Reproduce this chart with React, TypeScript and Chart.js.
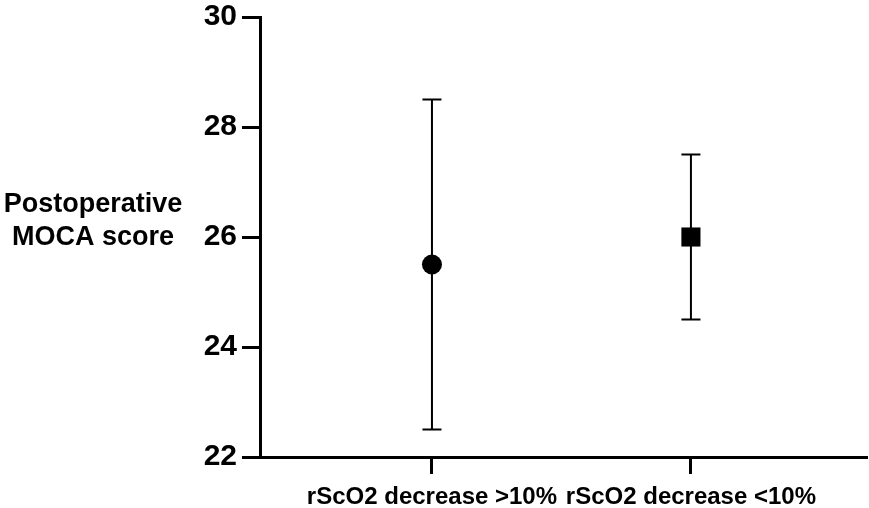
import React, { useEffect, useRef } from "react";
import { Chart, registerables } from "chart.js";

Chart.register(...registerables);

const categories = ["rScO2 decrease >10%", "rScO2 decrease <10%"];
const means = [25.5, 26];
const lowerBounds = [22.5, 24.5];
const upperBounds = [28.5, 27.5];
const yTicks = [22, 24, 26, 28, 30];
const yTitleLines = ["Postoperative", "MOCA score"];
const pointShapes = ["circle", "rect"];

const FONT = "'Liberation Sans', Arial, Helvetica, sans-serif";

const errorBarPlugin = {
  id: "errorBars",
  beforeDatasetsDraw(chart: any) {
    const ctx = chart.ctx;
    const xs = chart.scales.x;
    const ys = chart.scales.y;
    ctx.save();
    ctx.strokeStyle = "#000";
    ctx.lineWidth = 2;
    categories.forEach((_, i) => {
      const x = xs.getPixelForValue(i + 1);
      const yl = ys.getPixelForValue(lowerBounds[i]);
      const yh = ys.getPixelForValue(upperBounds[i]);
      const cap = 9.5;
      ctx.beginPath();
      ctx.moveTo(x, yl);
      ctx.lineTo(x, yh);
      ctx.moveTo(x - cap, yl);
      ctx.lineTo(x + cap, yl);
      ctx.moveTo(x - cap, yh);
      ctx.lineTo(x + cap, yh);
      ctx.stroke();
    });
    ctx.restore();
  },
};

const yTitlePlugin = {
  id: "yTitle",
  afterDraw(chart: any) {
    const ctx = chart.ctx;
    const ys = chart.scales.y;
    const cy = ys.getPixelForValue(26.3);
    ctx.save();
    ctx.fillStyle = "#000";
    ctx.font = `bold 27px ${FONT}`;
    ctx.textAlign = "center";
    ctx.textBaseline = "alphabetic";
    ctx.fillText(yTitleLines[0], 93, cy - 9);
    ctx.fillText(yTitleLines[1], 93, cy + 24);
    ctx.restore();
  },
};

export default function App() {
  const ref = useRef<HTMLCanvasElement | null>(null);
  useEffect(() => {
    if (!ref.current) return;
    const chart = new Chart(ref.current, {
      type: "scatter",
      data: {
        datasets: categories.map((c, i) => ({
          label: c,
          data: [{ x: i + 1, y: means[i] }],
          pointStyle: pointShapes[i] as any,
          pointRadius: i === 0 ? 10 : 13.5,
          backgroundColor: "#000",
          borderColor: "#000",
          borderWidth: 0,
        })),
      },
      plugins: [errorBarPlugin, yTitlePlugin],
      options: {
        animation: false,
        responsive: true,
        maintainAspectRatio: false,
        layout: { autoPadding: false, padding: { top: 17, right: 3, left: 0, bottom: 0 } },
        plugins: { legend: { display: false }, tooltip: { enabled: false } },
        scales: {
          x: {
            type: "linear",
            min: 0.336,
            max: 2.676,
            afterBuildTicks(scale: any) {
              scale.ticks = categories.map((_, i) => ({ value: i + 1 }));
            },
            afterFit(scale: any) {
              scale.height = 51;
              scale.paddingLeft = 0;
              scale.paddingRight = 0;
            },
            ticks: {
              callback: (v: any) => categories[Number(v) - 1] ?? "",
              color: "#000",
              font: { family: FONT, size: 24, weight: "bold" },
              padding: 9,
              maxRotation: 0,
              autoSkip: false,
            },
            grid: {
              drawOnChartArea: false,
              drawTicks: true,
              tickLength: 17,
              color: "#000",
              lineWidth: 3,
            },
            border: { color: "#000", width: 3 },
          },
          y: {
            min: 22,
            max: 30,
            afterBuildTicks(scale: any) {
              scale.ticks = yTicks.map((v) => ({ value: v }));
            },
            afterFit(scale: any) {
              scale.width = 260;
              scale.paddingTop = 0;
              scale.paddingBottom = 0;
            },
            ticks: {
              color: "#000",
              font: { family: FONT, size: 30, weight: "bold" },
              padding: 5,
            },
            grid: {
              drawOnChartArea: false,
              drawTicks: true,
              tickLength: 18,
              color: "#000",
              lineWidth: 3,
            },
            border: { color: "#000", width: 3 },
          },
        },
      },
    });
    return () => chart.destroy();
  }, []);
  return (
    <div style={{ position: "absolute", left: 0, top: 0, width: 869, height: 508, background: "#fff" }}>
      <canvas ref={ref} />
    </div>
  );
}
